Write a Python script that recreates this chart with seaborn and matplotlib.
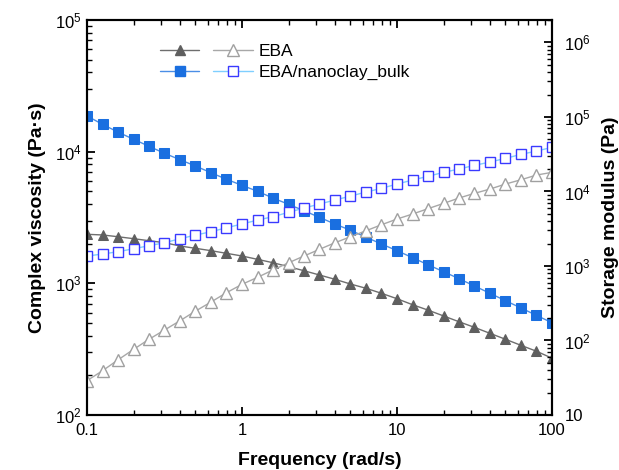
import numpy as np
import pandas as pd
import matplotlib
matplotlib.use("Agg")
import matplotlib.pyplot as plt
import seaborn as sns
from matplotlib.ticker import LogLocator, FixedLocator, FuncFormatter, NullFormatter
from matplotlib.legend_handler import HandlerTuple
from matplotlib.lines import Line2D

# frequency sweep (rad/s)
freq = [0.1, 0.126, 0.158, 0.2, 0.251, 0.316, 0.398, 0.501, 0.631, 0.794,
        1.0, 1.26, 1.58, 2.0, 2.51, 3.16, 3.98, 5.01, 6.31, 7.94,
        10.0, 12.6, 15.8, 20.0, 25.1, 31.6, 39.8, 50.1, 63.1, 79.4, 100.0]

# complex viscosity (Pa.s), left axis
eba_visc = [2357, 2330, 2260, 2183, 2108, 2036, 1921, 1845, 1770, 1690, 1613,
            1521, 1435, 1337, 1247, 1157, 1073, 988, 917, 840, 764,
            688, 627, 565, 511, 463, 417, 376, 338, 305, 270]
nano_visc = [18660, 16130, 14100, 12410, 10990, 9720, 8690, 7780, 6920, 6170, 5550,
             5000, 4450, 3980, 3560, 3170, 2820, 2530, 2240, 1990, 1770,
             1566, 1386, 1225, 1085, 955, 840, 738, 650, 571, 502]

# storage modulus (Pa), right axis
eba_g = [28.9, 39.3, 54.7, 76.1, 103.7, 138, 184, 248, 328, 438, 567,
         704, 882, 1105, 1360, 1672, 2050, 2467, 2970, 3575, 4265,
         4977, 5862, 6920, 8160, 9430, 10770, 12570, 14360, 16600, 18050]
nano_g = [1360, 1446, 1553, 1703, 1870, 2050, 2318, 2600, 2878, 3260, 3654,
          4132, 4580, 5250, 5990, 6780, 7670, 8670, 9820, 11010, 12570,
          14230, 15950, 18050, 20000, 22400, 24830, 27800, 31470, 34840, 39080]

labels = ["EBA", "EBA/nanoclay_bulk"]

df = pd.DataFrame({"freq": freq, "eba_visc": eba_visc, "nano_visc": nano_visc,
                   "eba_g": eba_g, "nano_g": nano_g})

sns.set_style("ticks")
plt.rcParams["font.family"] = ["Liberation Sans", "DejaVu Sans"]
plt.rcParams["mathtext.fontset"] = "custom"
plt.rcParams["mathtext.rm"] = "Liberation Sans"
plt.rcParams["mathtext.it"] = "Liberation Sans:italic"
plt.rcParams["mathtext.bf"] = "Liberation Sans:bold"
for k in ["text.color", "axes.labelcolor", "xtick.color", "ytick.color"]:
    plt.rcParams[k] = "black"

fig = plt.figure(figsize=(6.19, 4.70), dpi=100)
ax = fig.add_axes([87 / 619, 55 / 470, 465 / 619, 395 / 470])
ax2 = ax.twinx()

# style for each series
s_eba_v = dict(color="#6e6e6e", marker="^", markersize=7, markerfacecolor="#5f5f5f",
               markeredgecolor="#5f5f5f", linewidth=1.0)
s_nano_v = dict(color="#4a8ee6", marker="s", markersize=6.5, markerfacecolor="#1a6fe0",
                markeredgecolor="#1a6fe0", linewidth=1.0)
s_eba_g = dict(color="#a8a8a8", marker="^", markersize=8, markerfacecolor="white",
               markeredgecolor="#a0a0a0", markeredgewidth=1.0, linewidth=1.0)
s_nano_g = dict(color="#7fcfff", marker="s", markersize=7, markerfacecolor="white",
                markeredgecolor="#3a3aff", markeredgewidth=1.0, linewidth=1.0)

sns.lineplot(data=df, x="freq", y="eba_visc", ax=ax, legend=False, **s_eba_v)
sns.lineplot(data=df, x="freq", y="nano_visc", ax=ax, legend=False, **s_nano_v)
sns.lineplot(data=df, x="freq", y="eba_g", ax=ax2, legend=False, **s_eba_g)
sns.lineplot(data=df, x="freq", y="nano_g", ax=ax2, legend=False, **s_nano_g)

ax.set_xscale("log")
ax.set_yscale("log")
ax2.set_yscale("log")
ax.set_xlim(0.1, 100)
ax.set_ylim(100, 1e5)
ax2.set_ylim(10, 2e6)

ax.xaxis.set_major_locator(FixedLocator([0.1, 1, 10, 100]))
ax.xaxis.set_major_formatter(FuncFormatter(lambda v, p: "%g" % v))
ax.xaxis.set_minor_locator(LogLocator(base=10, subs=np.arange(2, 10)))
ax.xaxis.set_minor_formatter(NullFormatter())

def sci(v, p):
    e = int(round(np.log10(v)))
    if e == 1:
        return "10"
    return r"$\mathregular{10^{%d}}$" % e

ax.yaxis.set_major_locator(FixedLocator([1e2, 1e3, 1e4, 1e5]))
ax.yaxis.set_major_formatter(FuncFormatter(sci))
ax.yaxis.set_minor_locator(LogLocator(base=10, subs=np.arange(2, 10)))
ax.yaxis.set_minor_formatter(NullFormatter())
ax2.yaxis.set_major_locator(FixedLocator([1e1, 1e2, 1e3, 1e4, 1e5, 1e6]))
ax2.yaxis.set_major_formatter(FuncFormatter(sci))
ax2.yaxis.set_minor_locator(LogLocator(base=10, subs=np.arange(2, 10)))
ax2.yaxis.set_minor_formatter(NullFormatter())

ax.tick_params(axis="x", which="both", direction="in", top=True, bottom=True,
               labelsize=12, pad=6)
ax.tick_params(axis="y", which="both", direction="in", left=True, right=False,
               labelsize=12, pad=4)
ax2.tick_params(axis="y", which="both", direction="in", right=True, labelsize=12, pad=9)
for a in (ax, ax2):
    a.tick_params(which="major", length=6, width=1.3)
    a.tick_params(which="minor", length=3.5, width=1.0)
    for sp in a.spines.values():
        sp.set_visible(True)
        sp.set_linewidth(1.5)
        sp.set_color("black")

ax.set_xlabel("Frequency (rad/s)", fontsize=14, fontweight="bold", labelpad=10)
ax.set_ylabel("Complex viscosity (Pa·s)", fontsize=14, fontweight="bold", labelpad=6)
ax2.set_ylabel("Storage modulus (Pa)", fontsize=14, fontweight="bold", labelpad=8)

# Origin style legend: filled + open marker per row
h_eba = (Line2D([], [], **s_eba_v), Line2D([], [], **s_eba_g))
h_nano = (Line2D([], [], **s_nano_v), Line2D([], [], **s_nano_g))
ax.legend([h_eba, h_nano], labels, handler_map={tuple: HandlerTuple(ndivide=None, pad=0.8)},
          loc="upper left", bbox_to_anchor=(0.123, 0.98), frameon=False, fontsize=12.5,
          handlelength=5.35, handletextpad=0.35, labelspacing=0.35)

fig.savefig("out.png", dpi=100)
